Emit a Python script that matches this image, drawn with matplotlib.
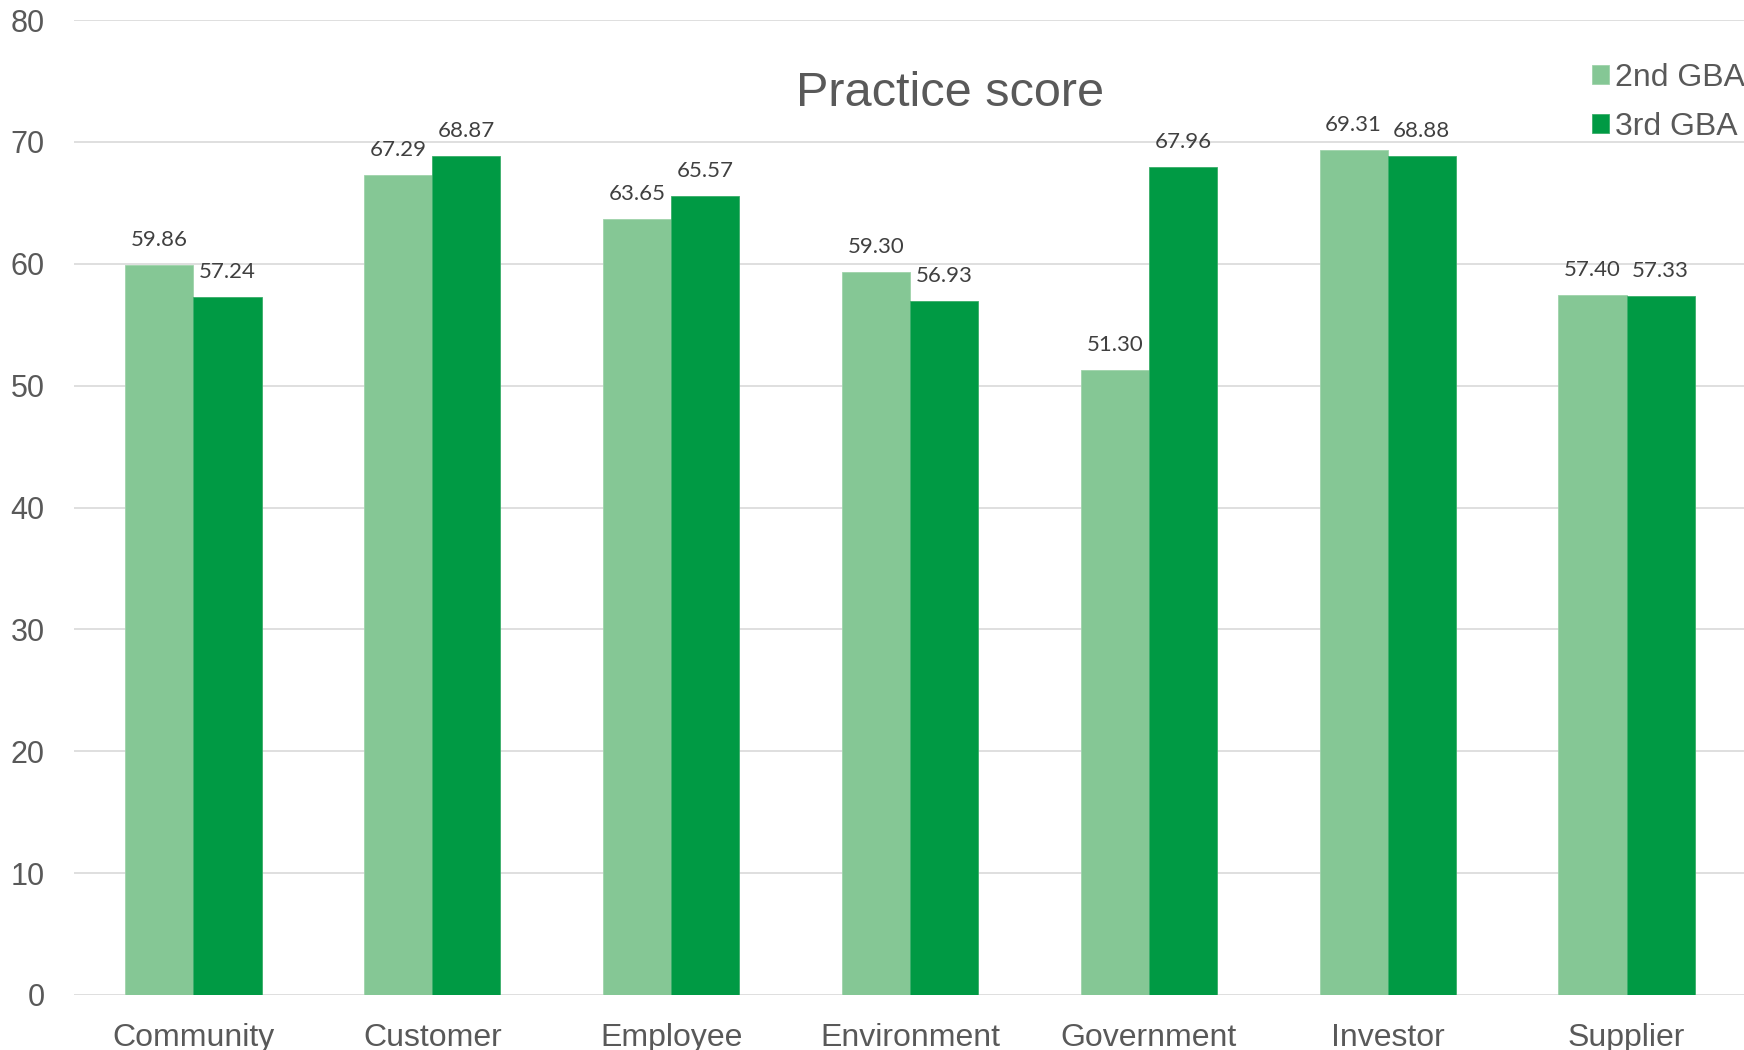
import matplotlib
matplotlib.use('Agg')
import matplotlib.pyplot as plt
import numpy as np

# --- Data ---
categories = ['Community', 'Customer', 'Employee', 'Environment', 'Government', 'Investor', 'Supplier']
gba2 = [59.86, 67.29, 63.65, 59.30, 51.30, 69.31, 57.40]
gba3 = [57.24, 68.87, 65.57, 56.93, 67.96, 68.88, 57.33]
series_names = ['2nd GBA', '3rd GBA']
yticks = [0, 10, 20, 30, 40, 50, 60, 70, 80]

light = '#85C795'
dark = '#009A44'
grey = '#595959'

fig = plt.figure(figsize=(17.44, 10.5), dpi=100)
ax = fig.add_axes([74 / 1744, 1 - 995 / 1050, 1672 / 1744, 975 / 1050])

x = np.arange(len(categories))
w = 0.285

b1 = ax.bar(x - w / 2, gba2, w, color=light, edgecolor='#9fd3ab', linewidth=0.6, label=series_names[0], zorder=3)
b2 = ax.bar(x + w / 2, gba3, w, color=dark, edgecolor='#3aae6a', linewidth=0.6, label=series_names[1], zorder=3)

# --- Data labels ---
for bars in (b1, b2):
    for rect in bars:
        h = rect.get_height()
        ax.annotate(f'{h:.2f}', (rect.get_x() + rect.get_width() / 2, h),
                    xytext=(0, 18), textcoords='offset points',
                    ha='center', va='center', fontsize=16, color='#404040',
                    family=['Lato', 'DejaVu Sans'])

# --- Axes styling ---
ax.set_xlim(-0.5, len(categories) - 0.5)
ax.set_ylim(0, 80)
ax.set_yticks(yticks)
ax.yaxis.grid(True, color='#d9d9d9', linewidth=1.2, zorder=0)
ax.set_axisbelow(True)
for s in ax.spines.values():
    s.set_visible(False)
ax.tick_params(axis='both', length=0)
ax.tick_params(axis='y', labelsize=22, labelcolor=grey, pad=21)
ax.tick_params(axis='x', labelsize=23, labelcolor=grey, pad=20)
ax.set_xticks(x)
ax.set_xticklabels(categories, family='Liberation Sans')
for t in ax.get_yticklabels():
    t.set_family('Liberation Sans')

# --- Title ---
fig.text(950 / 1744, 1 - 93 / 1050, 'Practice score', ha='center', va='center',
         fontsize=35, color=grey, family='Liberation Sans')

# --- Legend ---
leg = ax.legend(loc='upper left', bbox_to_anchor=(1592 / 1744, 1 - 63 / 1050),
                bbox_transform=fig.transFigure,
                frameon=False, labelcolor=grey, handlelength=0.53, handleheight=0.53,
                handletextpad=0.2, labelspacing=0.6, borderaxespad=0, borderpad=0,
                prop={'family': 'Liberation Sans', 'size': 23})

fig.savefig('out.png', dpi=100)
